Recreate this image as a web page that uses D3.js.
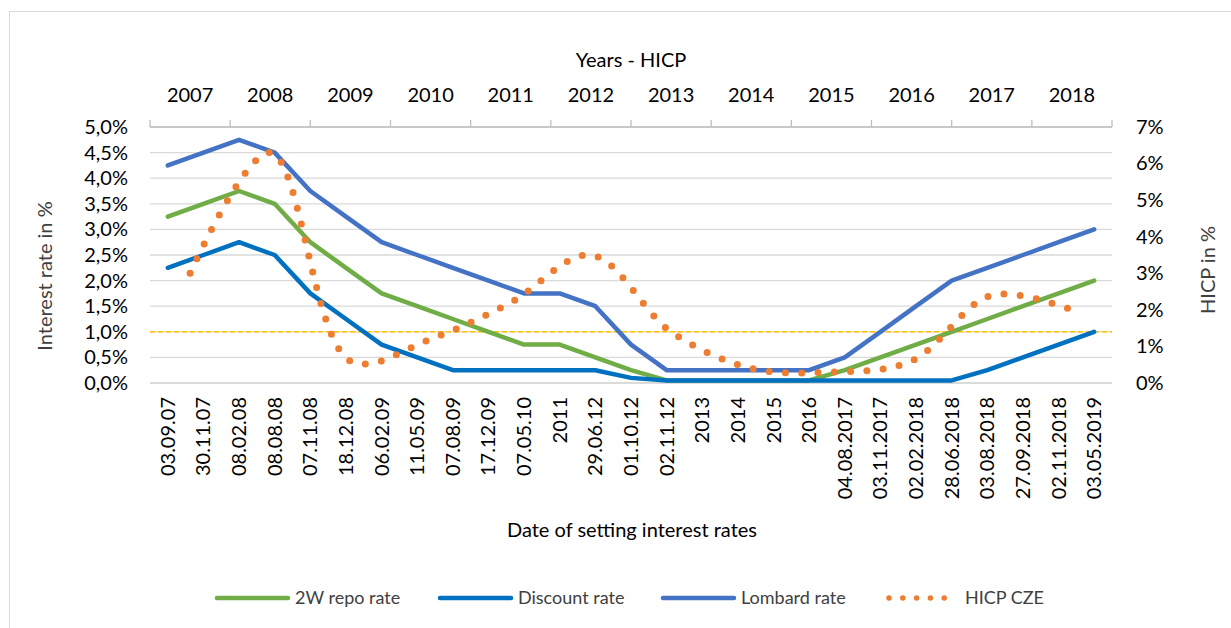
<!DOCTYPE html>
<html>
<head>
<meta charset="utf-8">
<script src="https://cdn.jsdelivr.net/npm/d3@7"></script>
<style>
  html, body { margin: 0; padding: 0; background: #fff; }
  svg { display: block; font-family: Lato, "Open Sans", sans-serif; }
</style>
</head>
<body>
<svg id="chart" width="1231" height="628"></svg>
<script>
// ---- data ----
const dates = ["03.09.07","30.11.07","08.02.08","08.08.08","07.11.08","18.12.08","06.02.09","11.05.09","07.08.09","17.12.09","07.05.10","2011","29.06.12","01.10.12","02.11.12","2013","2014","2015","2016","04.08.2017","03.11.2017","02.02.2018","28.06.2018","03.08.2018","27.09.2018","02.11.2018","03.05.2019"];
const repoRate = [3.25,3.5,3.75,3.5,2.75,2.25,1.75,1.5,1.25,1.0,0.75,0.75,0.5,0.25,0.05,0.05,0.05,0.05,0.05,0.25,0.5,0.75,1.0,1.25,1.5,1.75,2.0];
const discountRate = [2.25,2.5,2.75,2.5,1.75,1.25,0.75,0.5,0.25,0.25,0.25,0.25,0.25,0.1,0.05,0.05,0.05,0.05,0.05,0.05,0.05,0.05,0.05,0.25,0.5,0.75,1.0];
const lombardRate = [4.25,4.5,4.75,4.5,3.75,3.25,2.75,2.5,2.25,2.0,1.75,1.75,1.5,0.75,0.25,0.25,0.25,0.25,0.25,0.5,1.0,1.5,2.0,2.25,2.5,2.75,3.0];
const years = ["2007","2008","2009","2010","2011","2012","2013","2014","2015","2016","2017","2018"];
const hicp = [3.0,6.3,0.6,1.2,2.2,3.5,1.4,0.4,0.3,0.6,2.4,2.0];
const threshold = [1.0];
const leftTicks = [0,0.5,1,1.5,2,2.5,3,3.5,4,4.5,5];
const rightTicks = [0,1,2,3,4,5,6,7];

const series = [
  {name: "2W repo rate", values: repoRate, color: "#70AD47"},
  {name: "Discount rate", values: discountRate, color: "#0070C0"},
  {name: "Lombard rate", values: lombardRate, color: "#4472C4"}
];

// ---- layout ----
const svg = d3.select("#chart");
const L = 150, R = 1112, T = 127, B = 383;

const x = d3.scaleBand().domain(dates).range([L, R]);
const xYear = d3.scaleBand().domain(years).range([L, R]);
const y = d3.scaleLinear().domain([0, 5]).range([B, T]);
const y2 = d3.scaleLinear().domain([0, 7]).range([B, T]);
const fmtL = v => d3.format(".1f")(v).replace(".", ",") + "%";

// outer border
svg.append("rect").attr("x", 9.5).attr("y", 11.5).attr("width", 1300).attr("height", 700)
  .attr("fill", "none").attr("stroke", "#D9D9D9").attr("stroke-width", 1);

// gridlines
svg.append("g").selectAll("line").data(leftTicks).join("line")
  .attr("x1", L).attr("x2", R)
  .attr("y1", d => y(d)).attr("y2", d => y(d))
  .attr("stroke", "#D9D9D9").attr("stroke-width", 1.3);

// left axis
const gL = svg.append("g").attr("transform", `translate(${L},0)`)
  .call(d3.axisLeft(y).tickValues(leftTicks).tickFormat(fmtL).tickSize(0).tickPadding(22));
gL.select(".domain").remove();
gL.selectAll("text").attr("font-size", 20).attr("fill", "#000").attr("font-family", "Lato");

// right axis
const gR = svg.append("g").attr("transform", `translate(${R},0)`)
  .call(d3.axisRight(y2).tickValues(rightTicks).tickFormat(d => d + "%").tickSize(0).tickPadding(24));
gR.select(".domain").remove();
gR.selectAll("text").attr("font-size", 20).attr("fill", "#000").attr("font-family", "Lato");

// top axis (years)
const gT = svg.append("g").attr("transform", `translate(0,${T})`);
gT.append("line").attr("x1", L).attr("x2", R).attr("stroke", "#BFBFBF").attr("stroke-width", 1.3);
const bounds = years.map(d => xYear(d)).concat([R]);
gT.selectAll("line.tk").data(bounds).join("line").attr("class", "tk")
  .attr("x1", d => d).attr("x2", d => d).attr("y1", 0).attr("y2", -7)
  .attr("stroke", "#BFBFBF").attr("stroke-width", 1.3);
gT.selectAll("text").data(years).join("text")
  .attr("x", d => xYear(d) + xYear.bandwidth() / 2).attr("y", 102 - T)
  .attr("text-anchor", "middle").attr("font-size", 20).attr("fill", "#000")
  .text(d => d);

// bottom axis line
svg.append("line").attr("x1", L).attr("x2", R).attr("y1", B).attr("y2", B)
  .attr("stroke", "#D9D9D9").attr("stroke-width", 1.3);

// bottom labels (rotated)
svg.append("g").selectAll("text").data(dates).join("text")
  .attr("transform", d => `translate(${x(d) + x.bandwidth() / 2 + 7},397) rotate(-90)`)
  .attr("text-anchor", "end").attr("font-size", 20).attr("fill", "#000")
  .text(d => d);

// threshold line
svg.append("g").selectAll("line").data(threshold).join("line")
  .attr("x1", L).attr("x2", R).attr("y1", d => y(d)).attr("y2", d => y(d))
  .attr("stroke", "#FFC000").attr("stroke-width", 1.5).attr("stroke-dasharray", "5 3");

// rate lines
const cx = d => x(d) + x.bandwidth() / 2;
series.forEach(s => {
  const line = d3.line().x((v, i) => cx(dates[i])).y(v => y(v));
  svg.append("path").datum(s.values).attr("d", line)
    .attr("fill", "none").attr("stroke", s.color).attr("stroke-width", 4.5)
    .attr("stroke-linejoin", "round").attr("stroke-linecap", "round");
});

// HICP smooth dotted line
const hLine = d3.line()
  .x((v, i) => xYear(years[i]) + xYear.bandwidth() / 2)
  .y(v => y2(v))
  .curve(d3.curveCatmullRom.alpha(0.5));
svg.append("path").datum(hicp).attr("d", hLine)
  .attr("fill", "none").attr("stroke", "#ED7D31").attr("stroke-width", 7)
  .attr("stroke-linecap", "round").attr("stroke-dasharray", "0 16.3");

// titles
svg.append("text").attr("x", 631).attr("y", 67).attr("text-anchor", "middle")
  .attr("font-size", 20).attr("fill", "#000").text("Years - HICP");
svg.append("text").attr("transform", "translate(52,276) rotate(-90)").attr("text-anchor", "middle")
  .attr("font-size", 20).attr("fill", "#404040").text("Interest rate in %");
svg.append("text").attr("transform", "translate(1215,270) rotate(-90)").attr("text-anchor", "middle")
  .attr("font-size", 20).attr("fill", "#404040").text("HICP in %");
svg.append("text").attr("x", 632).attr("y", 537).attr("text-anchor", "middle")
  .attr("font-size", 20).attr("fill", "#000").text("Date of setting interest rates");

// legend
const legendItems = [
  {name: series[0].name, color: series[0].color, x: 217, dotted: false},
  {name: series[1].name, color: series[1].color, x: 440, dotted: false},
  {name: series[2].name, color: series[2].color, x: 663, dotted: false},
  {name: "HICP CZE", color: "#ED7D31", x: 889, dotted: true}
];
const lg = svg.append("g");
legendItems.forEach(it => {
  if (it.dotted) {
    lg.append("line").attr("x1", it.x).attr("x2", it.x + 56).attr("y1", 598).attr("y2", 598)
      .attr("stroke", it.color).attr("stroke-width", 5.5).attr("stroke-linecap", "round")
      .attr("stroke-dasharray", "0 13.8");
    lg.append("text").attr("x", it.x + 76).attr("y", 604).attr("font-size", 18)
      .attr("fill", "#404040").text(it.name);
  } else {
    lg.append("line").attr("x1", it.x).attr("x2", it.x + 71).attr("y1", 598).attr("y2", 598)
      .attr("stroke", it.color).attr("stroke-width", 4.5).attr("stroke-linecap", "round");
    lg.append("text").attr("x", it.x + 78).attr("y", 604).attr("font-size", 18)
      .attr("fill", "#404040").text(it.name);
  }
});
</script>
</body>
</html>
